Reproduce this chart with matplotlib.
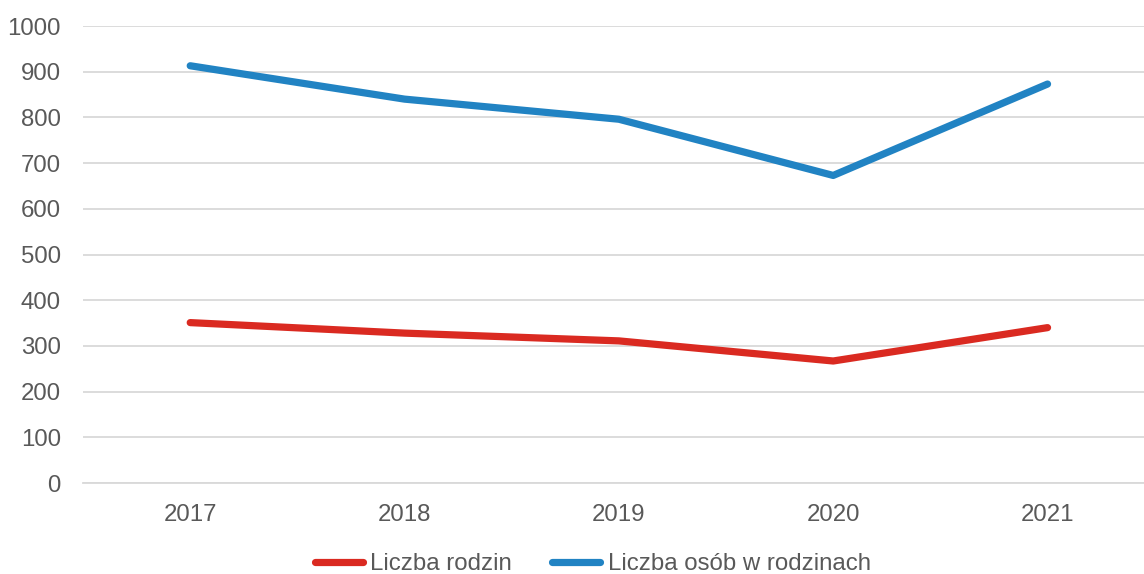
import matplotlib.pyplot as plt

plt.rcParams['font.family'] = ['Liberation Sans', 'DejaVu Sans']

years = ['2017', '2018', '2019', '2020', '2021']
rodziny = [351, 328, 311, 267, 340]
osoby = [913, 840, 796, 673, 873]

fig = plt.figure(figsize=(11.44, 5.74), dpi=100)
ax = fig.add_axes([0.0726, 0.1585, 0.9274, 0.7962])

x = range(len(years))
ax.plot(x, rodziny, color='#DA2A21', lw=5.2, solid_capstyle='round', label='Liczba rodzin')
ax.plot(x, osoby, color='#2183C3', lw=5.2, solid_capstyle='round', label='Liczba osób w rodzinach')

ax.set_ylim(0, 1000)
ax.set_yticks(range(0, 1001, 100))
ax.set_xlim(-0.5, 4.45)
ax.set_xticks(list(x))
ax.set_xticklabels(years)
ax.grid(axis='y', color='#D9D9D9', lw=1.3)
ax.set_axisbelow(True)

for s in ['top', 'right', 'left']:
    ax.spines[s].set_visible(False)
ax.spines['bottom'].set_color('#D9D9D9')
ax.spines['bottom'].set_linewidth(1.3)
ax.tick_params(axis='both', length=0, labelsize=17.3, labelcolor='#595959')
ax.tick_params(axis='x', pad=15)
ax.tick_params(axis='y', pad=16)

fig.legend(loc='center', bbox_to_anchor=(0.518, 0.017), ncol=2, frameon=False,
           fontsize=17.3, labelcolor='#595959', handlelength=2.0, handletextpad=0.3,
           columnspacing=1.7)

fig.savefig('out.png', dpi=100)
